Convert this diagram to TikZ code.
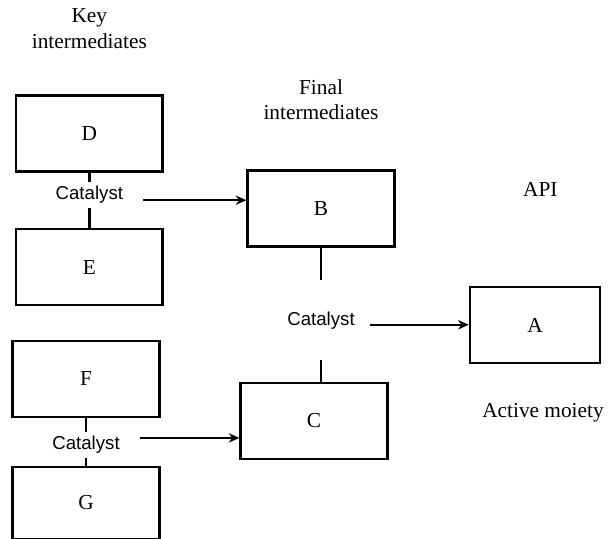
\documentclass[tikz,border=0pt]{standalone}
\usepackage{fontspec}
\setmainfont{Liberation Serif}
\newfontfamily\catfont{Liberation Sans}
\usetikzlibrary{arrows.meta, positioning}

\begin{document}
\begin{tikzpicture}[
    chembox/.style={draw=black, rectangle, line width=1.9pt, minimum width=110pt, minimum height=57pt, font=\fontsize{16}{19}\selectfont},
    apibox/.style={chembox, minimum width=97.5pt},
    catnode/.style={inner sep=3pt, font=\catfont\fontsize{14}{17}\selectfont},
    stagelabel/.style={align=center, inner sep=3pt, font=\fontsize{16}{19}\selectfont},
    link/.style={line width=1.9pt},
    arrow/.style={-{Stealth[length=8pt,width=7pt]}, line width=1.9pt}
]
\useasboundingbox (0,0) rectangle (461.25pt,-404pt);

% Key intermediates column
\node (D) [chembox] at (67pt,-100pt) {D};
\node (cat1) [catnode, below=7pt of D] {Catalyst};
\node (E) [chembox, below=15pt of cat1] {E};
\node (F) [chembox, below=25pt of E, xshift=-2.5pt] {F};
\node (cat2) [catnode, below=10pt of F] {Catalyst};
\node (G) [chembox, minimum height=54pt, below=6pt of cat2] {G};

% Final intermediates and API
\node (B) [chembox] at (240.75pt,-156.4pt) {B};
\node (cat3) [catnode, below=45pt of B] {Catalyst};
\node (C) [chembox] at (235.5pt,-315.75pt) {C};
\node (A) [apibox] at (401.25pt,-243.75pt) {A};

\node (key_lbl) [stagelabel, above=31pt of D] {Key\\intermediates};
\node (final_lbl) [stagelabel, above=34pt of B] {Final\\intermediates};
\node (api_lbl) [stagelabel, above=64pt of A, xshift=4pt] {API};
\node (moiety_lbl) [stagelabel, below=26pt of A, xshift=6pt] {Active moiety};

\draw [link] (D.south) -- (cat1.north);
\draw [link] (cat1.south) -- (E.north);
\draw [link] (F.south) -- (cat2.north);
\draw [link] (cat2.south) -- (G.north);

\draw [link, shorten >=21pt] (B.south) -- (cat3.north);
\draw [link, shorten <=20pt] (cat3.south) -- (cat3.south |- C.north);

\draw [arrow, shorten <=12pt] ([yshift=-4pt]cat1.east) -- ([yshift=-4pt]cat1.east -| B.west);
\draw [arrow, shorten <=12pt] ([yshift=5pt]cat2.east) -- ([yshift=5pt]cat2.east -| C.west);
\draw [arrow, shorten <=8pt] ([yshift=-3pt]cat3.east) -- ([yshift=-3pt]cat3.east -| A.west);

\end{tikzpicture}
\end{document}
